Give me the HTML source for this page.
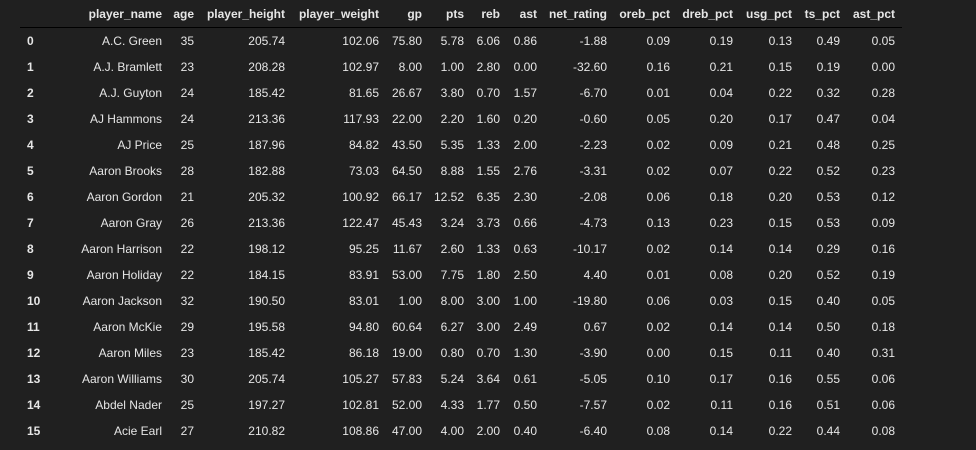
<!DOCTYPE html>
<html><head><meta charset="utf-8"><style>
html,body{margin:0;padding:0;background:#202020;width:976px;height:450px;overflow:hidden;}
#t{position:relative;width:976px;height:450px;font-family:"Liberation Sans",Arial,sans-serif;font-size:12px;color:#e6e6e6;}
.c{position:absolute;white-space:nowrap;line-height:14px;text-align:right;}
.h{font-weight:bold;}
.i{font-weight:bold;text-align:left;}
#line{position:absolute;left:20px;top:27px;width:882px;height:1px;background:#000;}
</style></head><body>
<div id="t"><div id="line"></div></div>
<script>
const columns=["player_name","age","player_height","player_weight","gp","pts","reb","ast","net_rating","oreb_pct","dreb_pct","usg_pct","ts_pct","ast_pct"];
const rows=[
["A.C. Green","35","205.74","102.06","75.80","5.78","6.06","0.86","-1.88","0.09","0.19","0.13","0.49","0.05"],
["A.J. Bramlett","23","208.28","102.97","8.00","1.00","2.80","0.00","-32.60","0.16","0.21","0.15","0.19","0.00"],
["A.J. Guyton","24","185.42","81.65","26.67","3.80","0.70","1.57","-6.70","0.01","0.04","0.22","0.32","0.28"],
["AJ Hammons","24","213.36","117.93","22.00","2.20","1.60","0.20","-0.60","0.05","0.20","0.17","0.47","0.04"],
["AJ Price","25","187.96","84.82","43.50","5.35","1.33","2.00","-2.23","0.02","0.09","0.21","0.48","0.25"],
["Aaron Brooks","28","182.88","73.03","64.50","8.88","1.55","2.76","-3.31","0.02","0.07","0.22","0.52","0.23"],
["Aaron Gordon","21","205.32","100.92","66.17","12.52","6.35","2.30","-2.08","0.06","0.18","0.20","0.53","0.12"],
["Aaron Gray","26","213.36","122.47","45.43","3.24","3.73","0.66","-4.73","0.13","0.23","0.15","0.53","0.09"],
["Aaron Harrison","22","198.12","95.25","11.67","2.60","1.33","0.63","-10.17","0.02","0.14","0.14","0.29","0.16"],
["Aaron Holiday","22","184.15","83.91","53.00","7.75","1.80","2.50","4.40","0.01","0.08","0.20","0.52","0.19"],
["Aaron Jackson","32","190.50","83.01","1.00","8.00","3.00","1.00","-19.80","0.06","0.03","0.15","0.40","0.05"],
["Aaron McKie","29","195.58","94.80","60.64","6.27","3.00","2.49","0.67","0.02","0.14","0.14","0.50","0.18"],
["Aaron Miles","23","185.42","86.18","19.00","0.80","0.70","1.30","-3.90","0.00","0.15","0.11","0.40","0.31"],
["Aaron Williams","30","205.74","105.27","57.83","5.24","3.64","0.61","-5.05","0.10","0.17","0.16","0.55","0.06"],
["Abdel Nader","25","197.27","102.81","52.00","4.33","1.77","0.50","-7.57","0.02","0.11","0.16","0.51","0.06"],
["Acie Earl","27","210.82","108.86","47.00","4.00","2.00","0.40","-6.40","0.08","0.14","0.22","0.44","0.08"]
];
const rightEdges=[162,194,285,379,422,464,500,537,607,670,733,792,840,895];
const t=document.getElementById('t');
function cell(txt,right,y,cls){
  const d=document.createElement('div');
  d.className='c '+cls;
  d.textContent=txt;
  d.style.right=(976-right)+'px';
  d.style.top=(y-7)+'px';
  t.appendChild(d);
  return d;
}
columns.forEach((c,j)=>{
  const d=cell(c,rightEdges[j],14,'h');
  
  
});
rows.forEach((r,i)=>{
  const y=41+i*26;
  const ix=document.createElement('div');
  ix.className='c i';
  ix.textContent=String(i);
  ix.style.left='27px';
  ix.style.top=(y-7)+'px';
  
  
  t.appendChild(ix);
  r.forEach((v,j)=>{
    const d=cell(v,rightEdges[j],y,'');
    
    
  });
});
</script>
</body></html>
